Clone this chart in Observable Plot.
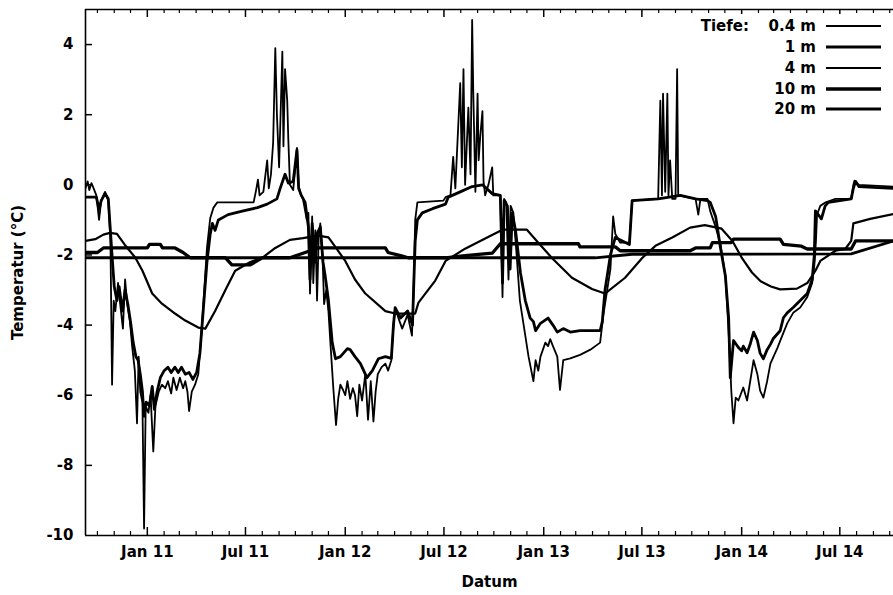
<!DOCTYPE html>
<html>
<head>
<meta charset="utf-8">
<script src="https://cdn.jsdelivr.net/npm/d3@7"></script>
<script src="https://cdn.jsdelivr.net/npm/@observablehq/plot@0.6"></script>
<style>
  body { margin: 0; background: #fff; }
  #wrap { position: relative; width: 893px; height: 595px; overflow: hidden; background: #fff; }
  #legend { position: absolute; left: 0; top: 0; pointer-events: none; }
</style>
</head>
<body>
<div id="wrap"></div>
<script>
// ---------------- data (date, °C) ----------------
const depthLabels = ["0.4 m", "1 m", "4 m", "10 m", "20 m"];
const yTickValues = [-10, -8, -6, -4, -2, 0, 2, 4];
const xDomainDates = ["2010-09-09", "2014-10-08"];

const t04 = [
["2010-09-09",-0.1],["2010-09-13",0.1],["2010-09-16",-0.15],["2010-09-20",0.05],["2010-09-24",-0.1],["2010-09-29",-0.3],["2010-10-04",-1.0],["2010-10-08",-0.45],["2010-10-15",-0.2],["2010-10-21",-0.45],["2010-10-25",-1.6],["2010-10-28",-5.7],["2010-10-31",-3.3],["2010-11-03",-3.6],["2010-11-08",-2.8],["2010-11-12",-3.4],["2010-11-17",-4.1],["2010-11-21",-2.7],["2010-11-25",-3.4],["2010-11-30",-3.9],["2010-12-04",-4.6],["2010-12-09",-5.3],["2010-12-13",-6.8],["2010-12-16",-4.9],["2010-12-19",-5.9],["2010-12-23",-6.2],["2010-12-26",-9.8],["2010-12-29",-6.3],["2011-01-03",-6.5],["2011-01-07",-6.0],["2011-01-12",-7.6],["2011-01-16",-6.3],["2011-01-22",-5.9],["2011-01-28",-5.7],["2011-02-03",-5.8],["2011-02-08",-5.6],["2011-02-14",-5.95],["2011-02-18",-5.5],["2011-02-24",-5.85],["2011-03-02",-5.5],["2011-03-08",-5.8],["2011-03-12",-5.6],["2011-03-16",-5.9],["2011-03-19",-6.45],["2011-03-24",-5.9],["2011-03-30",-5.7],["2011-04-05",-5.4],["2011-04-10",-4.4],["2011-04-16",-3.0],["2011-04-21",-1.8],["2011-04-27",-0.95],["2011-05-03",-0.65],["2011-05-10",-0.5],["2011-06-15",-0.5],["2011-07-16",-0.5],["2011-07-20",-0.2],["2011-07-24",0.15],["2011-07-27",-0.3],["2011-08-03",-0.2],["2011-08-10",0.7],["2011-08-13",-0.1],["2011-08-17",0.3],["2011-08-21",1.2],["2011-08-25",3.9],["2011-08-28",2.0],["2011-09-01",0.5],["2011-09-07",3.8],["2011-09-09",1.1],["2011-09-12",3.3],["2011-09-16",2.4],["2011-09-18",1.3],["2011-09-21",0.0],["2011-09-27",-0.15],["2011-10-04",1.05],["2011-10-07",0.0],["2011-10-10",-0.25],["2011-10-15",-0.4],["2011-10-22",-1.0],["2011-10-25",-0.8],["2011-10-28",-3.1],["2011-11-01",-0.9],["2011-11-03",-2.8],["2011-11-07",-1.3],["2011-11-10",-3.3],["2011-11-13",-1.5],["2011-11-16",-1.1],["2011-11-20",-2.0],["2011-11-23",-3.4],["2011-11-27",-3.0],["2011-12-01",-3.6],["2011-12-05",-4.6],["2011-12-10",-5.8],["2011-12-15",-6.85],["2011-12-19",-6.1],["2011-12-23",-5.7],["2011-12-28",-5.85],["2012-01-01",-6.0],["2012-01-05",-5.6],["2012-01-10",-6.1],["2012-01-15",-5.8],["2012-01-19",-6.0],["2012-01-23",-6.6],["2012-01-27",-5.7],["2012-02-01",-6.15],["2012-02-07",-5.4],["2012-02-12",-6.7],["2012-02-17",-5.6],["2012-02-22",-6.75],["2012-02-26",-5.9],["2012-03-01",-5.4],["2012-03-08",-5.2],["2012-03-15",-5.1],["2012-03-20",-5.3],["2012-03-26",-5.0],["2012-03-29",-4.2],["2012-04-02",-3.5],["2012-04-08",-3.8],["2012-04-15",-4.1],["2012-04-25",-3.7],["2012-05-03",-4.3],["2012-05-06",-3.0],["2012-05-09",-1.0],["2012-05-13",-0.5],["2012-06-30",-0.45],["2012-07-04",-0.35],["2012-07-13",-0.3],["2012-07-18",0.8],["2012-07-22",-0.1],["2012-07-31",2.9],["2012-08-03",0.5],["2012-08-06",3.3],["2012-08-09",0.0],["2012-08-15",2.2],["2012-08-19",0.3],["2012-08-22",4.7],["2012-08-24",2.7],["2012-08-28",-0.2],["2012-09-01",2.6],["2012-09-03",0.7],["2012-09-06",1.4],["2012-09-10",2.1],["2012-09-12",0.1],["2012-09-15",-0.3],["2012-09-21",0.0],["2012-09-28",0.5],["2012-09-30",-0.3],["2012-10-13",-0.3],["2012-10-17",-3.2],["2012-10-20",-0.4],["2012-10-24",-0.5],["2012-10-28",-2.7],["2012-11-01",-0.6],["2012-11-06",-0.8],["2012-11-12",-2.0],["2012-11-18",-3.3],["2012-11-25",-4.0],["2012-12-04",-4.9],["2012-12-13",-5.6],["2012-12-17",-5.0],["2012-12-22",-5.3],["2012-12-26",-4.9],["2013-01-04",-4.5],["2013-01-09",-4.6],["2013-01-13",-4.4],["2013-01-18",-4.6],["2013-01-26",-4.9],["2013-01-31",-5.85],["2013-02-06",-5.0],["2013-02-19",-4.95],["2013-03-09",-4.85],["2013-03-28",-4.7],["2013-04-15",-4.5],["2013-04-21",-3.7],["2013-04-28",-3.0],["2013-05-04",-2.4],["2013-05-09",-0.9],["2013-05-13",-1.4],["2013-05-22",-1.65],["2013-06-08",-1.65],["2013-06-13",-0.45],["2013-07-31",-0.4],["2013-08-04",2.4],["2013-08-07",-0.3],["2013-08-09",2.6],["2013-08-13",-0.2],["2013-08-17",2.6],["2013-08-19",-0.3],["2013-08-22",0.7],["2013-08-26",-0.4],["2013-09-01",-0.4],["2013-09-04",3.3],["2013-09-06",-0.3],["2013-10-08",-0.4],["2013-10-13",-0.85],["2013-10-17",-0.4],["2013-10-30",-0.4],["2013-11-04",-0.75],["2013-11-14",-1.2],["2013-11-23",-1.7],["2013-12-02",-2.6],["2013-12-08",-4.2],["2013-12-13",-5.9],["2013-12-17",-6.8],["2013-12-21",-6.07],["2013-12-26",-6.15],["2014-01-04",-5.78],["2014-01-11",-6.15],["2014-01-17",-5.58],["2014-01-23",-5.0],["2014-01-30",-5.4],["2014-02-04",-5.87],["2014-02-10",-6.07],["2014-02-17",-5.6],["2014-02-23",-5.1],["2014-03-08",-4.65],["2014-03-13",-4.45],["2014-03-26",-3.95],["2014-04-06",-3.65],["2014-04-19",-3.5],["2014-05-02",-3.2],["2014-05-11",-2.8],["2014-05-15",-2.3],["2014-05-18",-1.6],["2014-05-20",-0.85],["2014-05-26",-0.6],["2014-06-05",-0.5],["2014-06-23",-0.4],["2014-07-22",-0.4],["2014-07-26",0.0],["2014-07-28",0.12],["2014-08-05",0.0],["2014-10-08",-0.05]
];

const t1 = [
["2010-09-09",-0.35],["2010-09-29",-0.35],["2010-10-04",-0.7],["2010-10-08",-0.45],["2010-10-15",-0.25],["2010-10-21",-0.4],["2010-10-27",-1.8],["2010-11-01",-2.9],["2010-11-06",-3.3],["2010-11-10",-2.9],["2010-11-16",-3.6],["2010-11-21",-3.0],["2010-11-26",-3.4],["2010-12-01",-3.9],["2010-12-06",-4.5],["2010-12-11",-4.9],["2010-12-15",-5.0],["2010-12-19",-5.4],["2010-12-23",-5.9],["2010-12-26",-6.6],["2010-12-30",-6.2],["2011-01-05",-6.3],["2011-01-10",-5.75],["2011-01-14",-6.4],["2011-01-19",-5.9],["2011-01-25",-5.5],["2011-02-01",-5.3],["2011-02-08",-5.2],["2011-02-14",-5.35],["2011-02-21",-5.2],["2011-02-27",-5.35],["2011-03-05",-5.2],["2011-03-12",-5.4],["2011-03-19",-5.35],["2011-03-26",-5.55],["2011-04-02",-5.35],["2011-04-08",-4.8],["2011-04-14",-3.6],["2011-04-21",-2.2],["2011-04-27",-1.4],["2011-05-01",-1.1],["2011-05-06",-1.3],["2011-05-12",-1.0],["2011-05-30",-0.85],["2011-06-25",-0.75],["2011-07-23",-0.65],["2011-08-10",-0.55],["2011-08-28",-0.4],["2011-09-03",-0.1],["2011-09-12",0.3],["2011-09-18",0.05],["2011-09-27",0.1],["2011-10-04",1.0],["2011-10-07",-0.1],["2011-10-12",-0.3],["2011-10-19",-0.5],["2011-10-25",-1.2],["2011-10-28",-2.7],["2011-11-01",-1.1],["2011-11-07",-2.2],["2011-11-10",-1.4],["2011-11-16",-1.2],["2011-11-21",-2.2],["2011-11-25",-2.6],["2011-12-01",-3.3],["2011-12-08",-4.5],["2011-12-14",-4.96],["2011-12-23",-4.9],["2012-01-05",-4.67],["2012-01-10",-4.7],["2012-01-19",-4.9],["2012-01-29",-5.1],["2012-02-10",-5.5],["2012-02-20",-5.3],["2012-03-02",-4.96],["2012-03-15",-4.9],["2012-03-26",-4.95],["2012-03-30",-3.97],["2012-04-02",-3.5],["2012-04-12",-3.8],["2012-04-25",-3.6],["2012-05-04",-4.0],["2012-05-06",-3.0],["2012-05-09",-1.6],["2012-05-13",-1.0],["2012-05-22",-0.8],["2012-06-10",-0.68],["2012-07-04",-0.55],["2012-07-09",-0.35],["2012-07-31",-0.2],["2012-08-22",-0.05],["2012-09-10",0.0],["2012-09-28",-0.25],["2012-10-13",-0.3],["2012-10-17",-2.8],["2012-10-20",-0.45],["2012-10-26",-0.6],["2012-10-31",-2.4],["2012-11-04",-0.8],["2012-11-10",-1.3],["2012-11-19",-2.5],["2012-11-28",-3.3],["2012-12-07",-3.8],["2012-12-13",-3.9],["2012-12-17",-4.16],["2012-12-26",-3.95],["2013-01-09",-3.8],["2013-01-18",-4.0],["2013-01-26",-4.2],["2013-02-06",-4.1],["2013-02-19",-4.2],["2013-03-09",-4.16],["2013-04-15",-4.16],["2013-04-19",-3.9],["2013-04-24",-3.0],["2013-05-04",-2.0],["2013-05-13",-1.5],["2013-06-08",-1.7],["2013-06-13",-0.45],["2013-07-31",-0.4],["2013-09-10",-0.3],["2013-10-08",-0.4],["2013-10-30",-0.45],["2013-11-04",-0.5],["2013-11-14",-0.9],["2013-11-23",-1.8],["2013-12-02",-2.6],["2013-12-08",-3.8],["2013-12-11",-5.5],["2013-12-17",-4.44],["2013-12-26",-4.64],["2014-01-01",-4.73],["2014-01-04",-4.6],["2014-01-11",-4.79],["2014-01-17",-4.53],["2014-01-23",-4.2],["2014-01-30",-4.44],["2014-02-04",-4.8],["2014-02-10",-4.96],["2014-02-17",-4.7],["2014-02-23",-4.55],["2014-02-28",-4.39],["2014-03-13",-4.16],["2014-03-19",-3.79],["2014-03-26",-3.65],["2014-04-06",-3.5],["2014-04-19",-3.3],["2014-05-02",-3.1],["2014-05-11",-2.7],["2014-05-15",-2.0],["2014-05-17",-0.74],["2014-05-28",-0.97],["2014-06-04",-0.6],["2014-06-10",-0.5],["2014-07-22",-0.4],["2014-07-26",-0.1],["2014-07-30",0.1],["2014-08-05",-0.05],["2014-10-08",-0.1]
];

const t4 = [
["2010-09-09",-1.6],["2010-09-27",-1.55],["2010-10-12",-1.42],["2010-10-24",-1.37],["2010-11-06",-1.4],["2010-11-20",-1.7],["2010-12-10",-2.08],["2010-12-23",-2.45],["2011-01-10",-3.1],["2011-01-28",-3.39],["2011-02-21",-3.67],["2011-03-12",-3.87],["2011-04-05",-4.07],["2011-04-18",-4.1],["2011-05-06",-3.6],["2011-05-25",-3.0],["2011-06-12",-2.45],["2011-07-10",-2.2],["2011-08-01",-2.08],["2011-08-25",-1.8],["2011-09-21",-1.57],["2011-10-15",-1.52],["2011-11-12",-1.45],["2011-12-01",-1.5],["2011-12-15",-1.8],["2012-01-01",-2.17],["2012-01-19",-2.7],["2012-02-07",-3.1],["2012-03-15",-3.6],["2012-04-02",-3.67],["2012-05-09",-3.67],["2012-05-15",-3.36],["2012-06-15",-2.73],["2012-07-04",-2.17],["2012-08-09",-1.82],["2012-09-25",-1.45],["2012-10-17",-1.28],["2012-12-01",-1.28],["2012-12-22",-1.65],["2013-01-17",-2.1],["2013-02-22",-2.65],["2013-03-31",-2.97],["2013-04-24",-3.1],["2013-05-31",-2.65],["2013-07-02",-2.08],["2013-07-26",-1.74],["2013-08-26",-1.5],["2013-09-28",-1.22],["2013-10-25",-1.15],["2013-11-25",-1.25],["2013-12-15",-1.6],["2014-01-02",-2.1],["2014-01-20",-2.5],["2014-02-05",-2.75],["2014-02-24",-2.9],["2014-03-13",-2.98],["2014-04-13",-2.96],["2014-05-02",-2.8],["2014-05-17",-2.45],["2014-05-26",-2.17],["2014-06-23",-1.88],["2014-07-11",-1.83],["2014-07-22",-1.6],["2014-07-26",-1.1],["2014-08-26",-0.97],["2014-10-08",-0.83]
];

const t10 = [
["2010-09-09",-1.93],["2010-10-01",-1.93],["2010-10-12",-1.8],["2011-01-01",-1.8],["2011-01-05",-1.7],["2011-01-25",-1.7],["2011-01-29",-1.8],["2011-02-21",-1.8],["2011-03-08",-1.93],["2011-03-21",-2.08],["2011-05-25",-2.08],["2011-06-06",-2.28],["2011-07-10",-2.28],["2011-08-01",-2.08],["2011-09-21",-2.08],["2011-10-19",-1.93],["2011-11-12",-1.8],["2012-03-15",-1.8],["2012-03-20",-1.93],["2012-04-12",-2.02],["2012-04-26",-2.08],["2012-07-04",-2.08],["2012-08-09",-2.02],["2012-09-28",-1.95],["2012-10-13",-1.68],["2013-03-06",-1.68],["2013-03-09",-1.77],["2013-05-13",-1.77],["2013-05-22",-1.88],["2013-09-28",-1.88],["2013-10-08",-1.8],["2013-11-04",-1.8],["2013-11-08",-1.65],["2013-12-13",-1.65],["2013-12-17",-1.55],["2014-03-13",-1.55],["2014-03-19",-1.7],["2014-04-21",-1.75],["2014-05-02",-1.83],["2014-07-22",-1.83],["2014-07-30",-1.6],["2014-10-08",-1.6]
];

const t20 = [
["2010-09-09",-2.08],["2013-04-06",-2.08],["2013-06-13",-1.98],["2014-07-22",-1.97],["2014-10-08",-1.6]
];

// ---------------- build ----------------
const parse = d3.utcParse("%Y-%m-%d");
const series = [t04, t1, t4, t10, t20];
const widths = [1.8, 2.8, 2.2, 3.3, 2.8];
const rows = series.flatMap((s, i) => s.map(([d, v]) => ({date: parse(d), value: v, depth: depthLabels[i]})));

const W = 893, H = 595, mL = 85, mR = 0, mT = 9, mB = 60;
const xStart = parse(xDomainDates[0]), xEnd = parse(xDomainDates[1]);
const yDom = [-10, 5];
const msPerPx = (xEnd - xStart) / (W - mL - mR);
const unitPerPx = (yDom[1] - yDom[0]) / (H - mT - mB);

const months = d3.utcMonth.range(d3.utcMonth.ceil(xStart), xEnd);
const majors = months.filter(d => d.getUTCMonth() % 6 === 0);
const minors = months.filter(d => d.getUTCMonth() % 6 !== 0);
const fmt = d3.utcFormat("%b %y");

const lineMarks = depthLabels.map((lab, i) =>
  Plot.line(rows.filter(r => r.depth === lab), {
    x: "date", y: "value", stroke: "black", strokeWidth: widths[i],
    strokeLinejoin: "round", clip: true
  })
);

const chart = Plot.plot({
  width: W, height: H,
  marginLeft: mL, marginRight: mR, marginTop: mT, marginBottom: mB,
  x: {type: "utc", domain: [xStart, xEnd]},
  y: {domain: yDom},
  style: {fontFamily: "'DejaVu Sans', sans-serif", fontSize: "15px", fontWeight: "bold", background: "#fff", color: "#000"},
  marks: [
    // frame (top, bottom, left)
    Plot.ruleY([yDom[1]], {stroke: "black", strokeWidth: 1.6}),
    Plot.ruleY([yDom[0]], {stroke: "black", strokeWidth: 1.6}),
    Plot.ruleX([xStart], {stroke: "black", strokeWidth: 1.6}),
    // inward ticks, bottom and top
    Plot.ruleX(majors, {x: d => d, y1: yDom[0], y2: yDom[0] + 8 * unitPerPx, stroke: "black", strokeWidth: 1.5}),
    Plot.ruleX(minors, {x: d => d, y1: yDom[0], y2: yDom[0] + 4 * unitPerPx, stroke: "black", strokeWidth: 1.2}),
    Plot.ruleX(majors, {x: d => d, y1: yDom[1], y2: yDom[1] - 8 * unitPerPx, stroke: "black", strokeWidth: 1.5}),
    Plot.ruleX(minors, {x: d => d, y1: yDom[1], y2: yDom[1] - 4 * unitPerPx, stroke: "black", strokeWidth: 1.2}),
    // inward y ticks on the left
    Plot.ruleY(yTickValues.filter(v => v > yDom[0]), {y: d => d, x1: xStart, x2: new Date(+xStart + 7 * msPerPx), stroke: "black", strokeWidth: 1.5}),
    // axes (labels only)
    Plot.axisX(majors, {anchor: "bottom", tickSize: 0, tickPadding: 11, tickFormat: fmt, label: null}),
    Plot.axisY(yTickValues, {anchor: "left", tickSize: 0, tickPadding: 12, tickFormat: d => String(d), label: null}),
    Plot.text(["Temperatur (°C)"], {frameAnchor: "left", dx: -67, rotate: -90, textAnchor: "middle", lineAnchor: "middle", fontSize: 15, fontWeight: "bold"}),
    Plot.text(["Datum"], {frameAnchor: "bottom", dy: 47, textAnchor: "middle", lineAnchor: "middle", fontSize: 15, fontWeight: "bold"}),
    ...lineMarks
  ]
});

const wrap = document.getElementById("wrap");
wrap.appendChild(chart);

// ---------------- legend overlay ----------------
const leg = d3.select(wrap).append("svg")
  .attr("id", "legend").attr("width", W).attr("height", 140)
  .style("font-family", "'DejaVu Sans', sans-serif").style("font-size", "15px").style("font-weight", "bold");
const rowY = [26, 47, 68, 89, 109];
leg.append("rect").attr("x", 690).attr("y", 14).attr("width", 200).attr("height", 106).attr("fill", "#fff");
leg.append("text").attr("x", 749).attr("y", rowY[0]).attr("dy", "0.36em").attr("text-anchor", "end").text("Tiefe:");
depthLabels.forEach((lab, i) => {
  leg.append("text").attr("x", 816).attr("y", rowY[i]).attr("dy", "0.36em").attr("text-anchor", "end").text(lab);
  leg.append("line").attr("x1", 826).attr("x2", 881).attr("y1", rowY[i]).attr("y2", rowY[i])
    .attr("stroke", "black").attr("stroke-width", widths[i]);
});
</script>
</body>
</html>
